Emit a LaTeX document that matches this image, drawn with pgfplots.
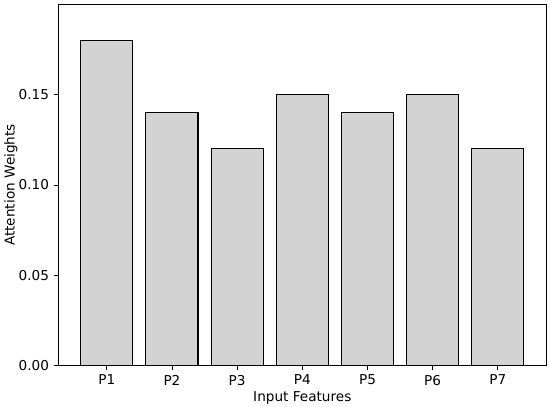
\documentclass[border=0pt]{standalone}
\usepackage{pgfplots}
\pgfplotsset{compat=1.18}
\usepackage{fontspec}
\setmainfont{DejaVu Sans}
\usetikzlibrary{calc}
\definecolor{barfill}{RGB}{211,211,211}

\begin{document}
\begin{tikzpicture}
\begin{axis}[
    name=ax,
    scale only axis,
    width=358pt, height=265pt,
    xmin=-0.74, xmax=6.74,
    ymin=0, ymax=0.2,
    xtick={0,1,2,3,4,5,6},
    xticklabels={P1,P2,P3,P4,P5,P6,P7},
    ytick={0,0.05,0.10,0.15},
    /pgf/number format/assume math mode=true,
    yticklabel style={/pgf/number format/.cd, fixed, fixed zerofill, precision=2},
    tick align=outside, tick pos=left,
    major tick length=3.5pt,
    tick style={line width=0.6pt, black},
    axis line style={line width=0.6pt},
    ticklabel style={font=\fontsize{10}{12}\selectfont},
    xlabel={Input Features},
    ylabel={Attention Weights},
    label style={font=\fontsize{10}{12}\selectfont},
    xlabel style={yshift=2.5pt},
    ylabel style={at={(rel axis cs:0,0.5)}, anchor=center, yshift=35pt},
    ybar, bar width=0.8, bar shift=0pt,
]
\addplot[fill=barfill, draw=black, line width=0.8pt] coordinates {
    (0,0.18) (1,0.14) (2,0.12) (3,0.15) (4,0.14) (5,0.15) (6,0.12)
};
\end{axis}
\pgfresetboundingbox
\path[use as bounding box] ($(ax.south west)+(-43pt,-30.1pt)$) rectangle ($(ax.north east)+(2.9pt,3.3pt)$);
\end{tikzpicture}
\end{document}
